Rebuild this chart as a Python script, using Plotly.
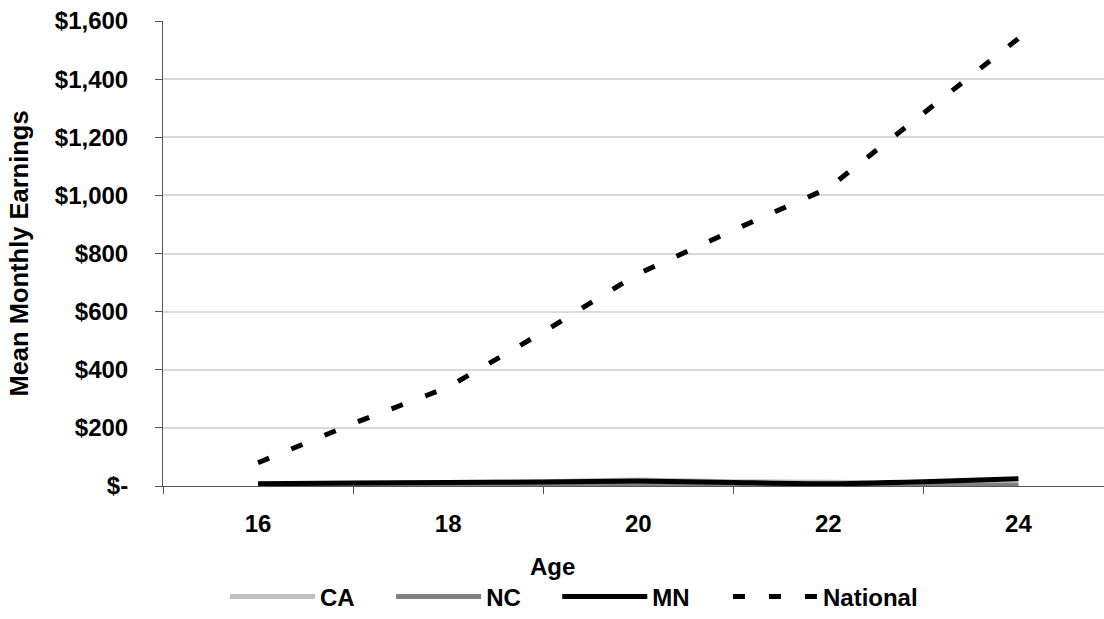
import plotly.graph_objects as go

ages = [16, 17, 18, 19, 20, 21, 22, 23, 24]
ca = [5, 8, 12, 15, 21, 15, 13, 10, 7]
nc = [3, 4, 5, 6, 7, 5, 4, 3, 3]
mn = [8, 10, 12, 14, 17, 12, 8, 15, 25]
national = [80, 215, 340, 530, 730, 880, 1025, 1280, 1540]

series_names = ["CA", "NC", "MN", "National"]
y_ticks = [0, 200, 400, 600, 800, 1000, 1200, 1400, 1600]
y_labels = ["$-", "$200", "$400", "$600", "$800", "$1,000", "$1,200", "$1,400", "$1,600"]
x_ticks = [16, 18, 20, 22, 24]
x_minor = [15, 17, 19, 21, 23]

FONT = "Liberation Sans, Arial, sans-serif"
W, H = 1104, 619
L, R, T, B = 163, 0, 21, 133
NB = "\u00a0"
TH = "\u2009"
pads = [NB * 4 + TH, NB * 4 + TH, NB * 5, ""]
legend_names = [n + p for n, p in zip(series_names, pads)]

fig = go.Figure()
fig.add_trace(go.Scatter(x=ages, y=ca, name=legend_names[0], mode="lines",
                         line=dict(color="#c0c0c0", width=5, shape="spline", smoothing=0.6)))
fig.add_trace(go.Scatter(x=ages, y=nc, name=legend_names[1], mode="lines",
                         line=dict(color="#808080", width=5, shape="spline", smoothing=0.6)))
fig.add_trace(go.Scatter(x=ages, y=mn, name=legend_names[2], mode="lines",
                         line=dict(color="#000000", width=5, shape="spline", smoothing=0.6)))
fig.add_trace(go.Scatter(x=ages, y=national, name=legend_names[3], mode="lines",
                         line=dict(color="#000000", width=5, dash="12px,24px")))

fig.update_layout(
    width=W, height=H,
    margin=dict(l=L, r=R, t=T, b=B, autoexpand=False),
    paper_bgcolor="white", plot_bgcolor="white",
    font=dict(family=FONT, size=24, color="black", weight="bold"),
    showlegend=True,
    legend=dict(orientation="h", x=(225 - L) / (W - L - R), xanchor="left",
                y=(486 - 597) / (486 - 21), yanchor="middle",
                font=dict(family=FONT, size=24, color="black", weight="bold"),
                itemwidth=85, bgcolor="rgba(0,0,0,0)"),
    xaxis=dict(range=[15, 24.9], tickmode="array", tickvals=x_ticks,
               ticktext=[str(v) for v in x_ticks],
               ticks="outside", ticklen=16, tickcolor="rgba(0,0,0,0)",
               showgrid=False, zeroline=False,
               showline=True, linecolor="#555555", linewidth=1,
               tickfont=dict(family=FONT, size=24, weight="bold"),
               minor=dict(tickmode="array", tickvals=x_minor, ticks="outside",
                          ticklen=7, tickcolor="#555555", tickwidth=1, showgrid=False)),
    yaxis=dict(range=[0, 1600], tickmode="array", tickvals=y_ticks, ticktext=y_labels,
               ticks="outside", ticklen=7, tickcolor="#555555", tickwidth=1,
               ticklabelstandoff=22,
               showgrid=True, gridcolor="#d9d9d9", gridwidth=2,
               zeroline=False, showline=True, linecolor="#555555", linewidth=1,
               tickfont=dict(family=FONT, size=24, weight="bold"),
               title=dict(text="Mean Monthly Earnings", standoff=18,
                          font=dict(family=FONT, size=25.5, weight="bold"))),
    annotations=[dict(text="Age", xref="paper", yref="paper",
                      x=(552 - L) / (W - L - R), y=(486 - 566) / (486 - 21),
                      xanchor="center", yanchor="middle", showarrow=False,
                      font=dict(family=FONT, size=24, weight="bold"))],
)

fig.write_html("out.html")
